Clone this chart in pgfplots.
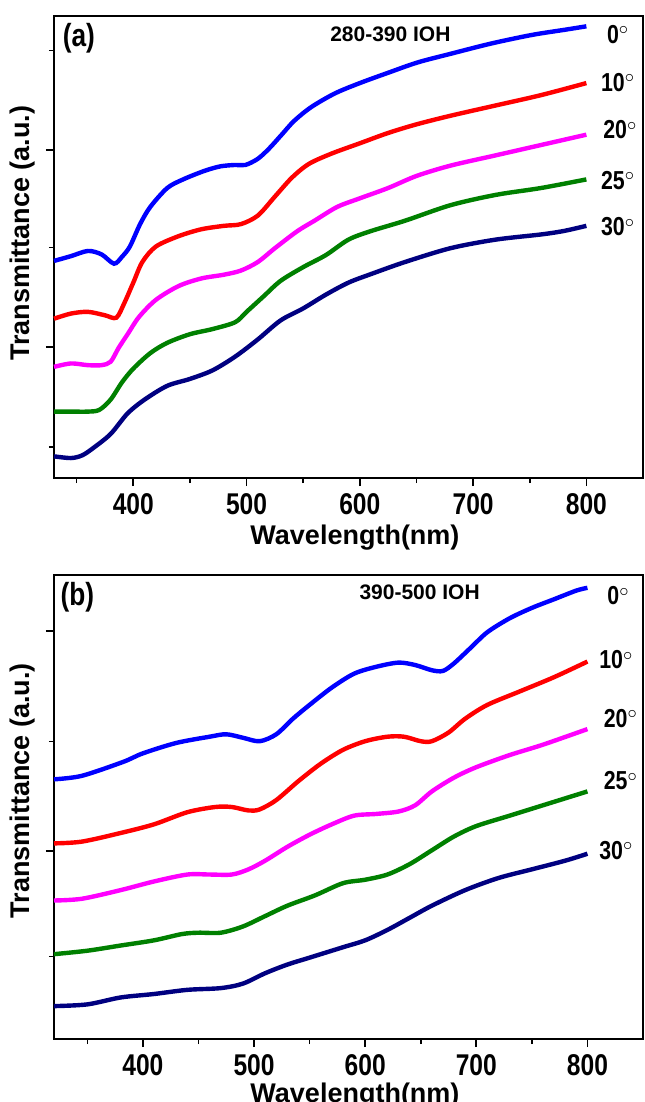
\documentclass[border=0pt]{standalone}
\usepackage{fontspec}
\setmainfont{Liberation Sans}
\newfontfamily\nfont{Liberation Sans}[FakeStretch=0.82]
\usepackage{pgfplots}
\pgfplotsset{compat=1.18}
\definecolor{cblue}{RGB}{0,0,255}
\definecolor{cred}{RGB}{255,0,0}
\definecolor{cmag}{RGB}{255,0,255}
\definecolor{cgreen}{RGB}{0,128,0}
\definecolor{cnavy}{RGB}{0,0,128}
\tikzset{dl/.style={font=\nfont\bfseries\fontsize{13}{15}\selectfont, anchor=center}}
\pgfplotsset{
  panel/.style={
    scale only axis, width=294.5pt, xmax=850, ymin=0,
    axis line style={line width=1pt},
    tick style={line width=0.8pt, black},
    tick align=outside, major tick length=4pt, minor tick length=2.5pt,
    xtick={400,500,600,700,800}, minor xtick={350,450,550,650,750},
    xtick pos=left, ytick pos=left,
    yticklabels={},
    /pgf/number format/assume math mode=true,
    xticklabel style={font=\nfont\bfseries\fontsize{15}{18}\selectfont, yshift=0pt},
    xlabel={Wavelength(nm)}, ylabel={Transmittance (a.u.)},
    label style={font=\bfseries\fontsize{13.5}{16}\selectfont},
    clip=false,
    every axis plot/.append style={line width=2.2pt, smooth, no marks},
  },
}
\begin{document}
\begin{tikzpicture}
\useasboundingbox (0,0) rectangle (322pt,-551pt);
% ---------------- panel (a)
\begin{axis}[panel, at={(27pt,-239pt)}, anchor=south west, height=231pt,
  xmin=330, ymax=1343, ytick={380,953}, minor ytick={91,670,1243},
  xlabel style={at={(axis description cs:0.511,-0.128)}, anchor=center},
  ylabel style={at={(axis description cs:-0.053,0.53)}, anchor=center}]
\addplot[cblue] coordinates {(330,631)(345,645)(360,660)(372,650)(383,623)(390,643)(397,673)(406,738)(415,788)(430,843)(444,868)(463,893)(477,906)(490,910)(499,910)(510,928)(520,958)(531,998)(542,1038)(557,1078)(578,1118)(600,1148)(625,1178)(651,1208)(680,1233)(716,1263)(752,1288)(781,1303)(800,1313)};
\addplot[cred] coordinates {(330,463)(345,478)(360,483)(375,473)(385,466)(392,508)(400,568)(408,628)(420,673)(440,703)(460,723)(480,733)(495,738)(510,763)(525,818)(540,873)(555,913)(575,943)(600,973)(625,1003)(650,1028)(680,1053)(720,1083)(760,1113)(800,1148)};
\addplot[cmag] coordinates {(330,323)(345,333)(360,328)(372,328)(380,338)(387,378)(395,418)(405,468)(420,518)(440,558)(460,580)(480,591)(495,603)(510,628)(525,668)(545,718)(560,748)(580,788)(600,813)(625,843)(650,878)(680,908)(720,938)(760,968)(800,998)};
\addplot[cgreen] coordinates {(330,193)(345,193)(360,193)(370,198)(380,228)(390,278)(400,318)(415,363)(430,393)(450,418)(470,433)(490,453)(500,483)(515,528)(530,573)(550,613)(570,648)(590,693)(610,718)(640,748)(680,793)(720,823)(760,843)(800,868)};
\addplot[cnavy] coordinates {(330,63)(345,58)(355,66)(365,88)(380,128)(395,188)(410,228)(430,268)(450,288)(470,313)(490,353)(510,403)(530,458)(550,493)(570,533)(590,568)(610,593)(640,628)(680,668)(720,693)(760,708)(780,718)(800,733)};
\node[dl] at (axis cs:828,1289) {0$^{\circ}$};
\node[dl] at (axis cs:828,1151) {10$^{\circ}$};
\node[dl] at (axis cs:830,1012) {20$^{\circ}$};
\node[dl] at (axis cs:828,866) {25$^{\circ}$};
\node[dl] at (axis cs:828,730) {30$^{\circ}$};
\node[font=\nfont\bfseries\fontsize{16}{18}\selectfont] at (axis cs:352,1278) {(a)};
\node[font=\bfseries\fontsize{10.5}{12}\selectfont] at (axis cs:627,1290) {280-390 IOH};
\end{axis}
% ---------------- panel (b)
\begin{axis}[panel, at={(27pt,-519.5pt)}, anchor=south west, height=232pt,
  xmin=320, ymax=1340, ytick={543,1178}, minor ytick={238,859},
  xlabel style={at={(axis description cs:0.511,-0.121)}, anchor=center},
  ylabel style={at={(axis description cs:-0.053,0.535)}, anchor=center}]
\addplot[cblue] coordinates {(320,750)(345,760)(382,800)(400,825)(430,855)(460,873)(475,880)(490,870)(505,860)(520,880)(535,925)(550,965)(570,1015)(590,1055)(610,1075)(630,1087)(645,1080)(660,1065)(670,1063)(680,1085)(695,1130)(710,1175)(730,1215)(750,1245)(770,1270)(790,1295)(800,1303)};
\addplot[cred] coordinates {(320,565)(345,570)(380,595)(410,620)(440,655)(465,670)(480,670)(495,660)(505,663)(520,690)(540,745)(560,795)(580,835)(600,860)(620,873)(635,873)(650,860)(660,860)(675,885)(690,925)(710,965)(740,1005)(770,1045)(800,1090)};
\addplot[cmag] coordinates {(320,400)(345,405)(380,430)(410,455)(440,475)(460,475)(480,475)(495,490)(510,515)(530,555)(550,590)(570,620)(590,645)(610,650)(630,657)(645,675)(660,715)(680,755)(700,785)(730,820)(760,850)(800,895)};
\addplot[cgreen] coordinates {(320,245)(350,255)(380,270)(410,285)(435,303)(450,307)(470,307)(490,325)(510,355)(530,385)(555,415)(580,450)(600,460)(620,475)(640,505)(660,545)(680,585)(700,615)(730,645)(760,675)(800,715)};
\addplot[cnavy] coordinates {(320,95)(350,100)(380,120)(410,130)(440,142)(470,147)(490,160)(510,190)(530,215)(550,235)(580,265)(600,285)(620,315)(640,350)(660,385)(690,430)(720,465)(750,490)(780,515)(800,535)};
\node[dl] at (axis cs:828,1280) {0$^{\circ}$};
\node[dl] at (axis cs:826,1095) {10$^{\circ}$};
\node[dl] at (axis cs:830,925) {20$^{\circ}$};
\node[dl] at (axis cs:830,745) {25$^{\circ}$};
\node[dl] at (axis cs:826,545) {30$^{\circ}$};
\node[font=\nfont\bfseries\fontsize{16}{18}\selectfont] at (axis cs:341,1275) {(b)};
\node[font=\bfseries\fontsize{10.5}{12}\selectfont] at (axis cs:649,1290) {390-500 IOH};
\end{axis}
\end{tikzpicture}
\end{document}
